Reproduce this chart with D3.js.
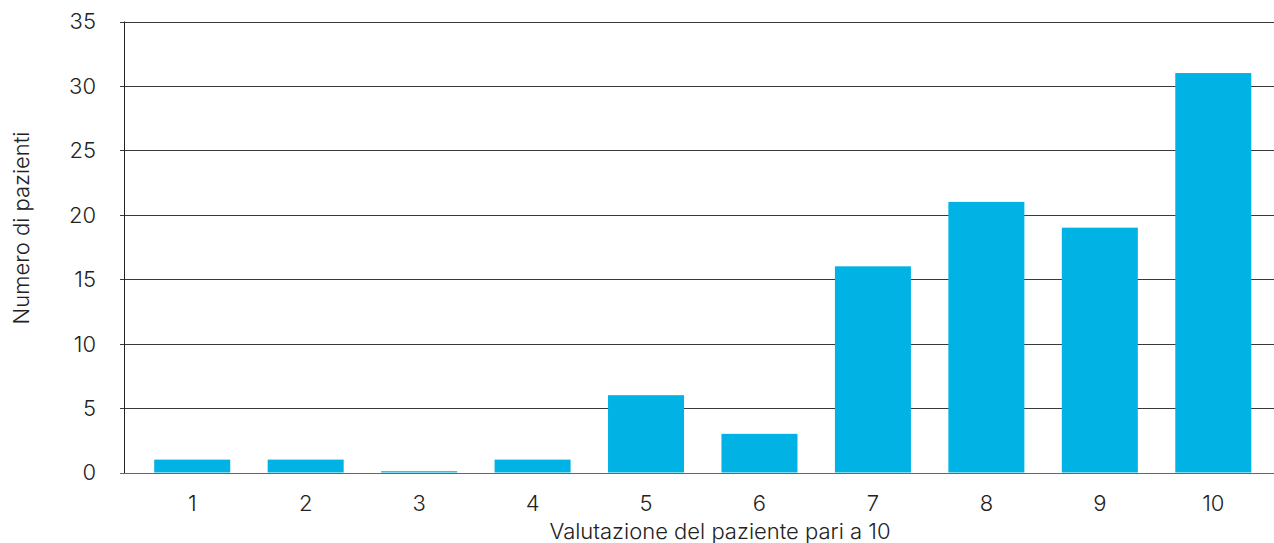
<!DOCTYPE html>
<html lang="en">
<head>
    <meta charset="UTF-8">
    <title>Numero di pazienti</title>
    <script src="https://d3js.org/d3.v7.min.js"></script>
    <style>
        body { margin: 0; background: #fff; }
        text { font-family: Inter, "Liberation Sans", Arial, sans-serif; font-weight: 300; fill: #222; }
    </style>
</head>
<body>
    <div id="chart"></div>

    <script>
        // valori
        var ratings = ["1", "2", "3", "4", "5", "6", "7", "8", "9", "10"];
        var patients = [1, 1, 0.1, 1, 6, 3, 16, 21, 19, 31];
        var yTicks = [0, 5, 10, 15, 20, 25, 30, 35];

        var width = 1274;
        var height = 543;
        var plotLeft = 124, plotRight = 1274, plotTop = 21.5, plotBottom = 472.5;

        var svg = d3.select("#chart")
            .append("svg")
            .attr("width", width)
            .attr("height", height);

        var x = d3.scaleBand()
            .domain(ratings)
            .range([135.5, 1270])
            .paddingInner(0.33)
            .paddingOuter(0.165);

        var y = d3.scaleLinear()
            .domain([0, 35])
            .range([plotBottom, plotTop]);

        // griglia
        svg.append("g")
            .selectAll("line")
            .data(yTicks)
            .enter().append("line")
            .attr("x1", plotLeft - 4)
            .attr("x2", plotRight)
            .attr("y1", function(d) { return Math.round(y(d)) + 0.5; })
            .attr("y2", function(d) { return Math.round(y(d)) + 0.5; })
            .attr("stroke", function(d) { return d === 0 ? "#666" : "#3a3a3a"; })
            .attr("stroke-width", 1);

        // barre
        svg.append("g")
            .selectAll("rect")
            .data(patients)
            .enter().append("rect")
            .attr("x", function(d, i) { return x(ratings[i]); })
            .attr("width", x.bandwidth())
            .attr("y", function(d) { return y(d); })
            .attr("height", function(d) { return y(0) - y(d); })
            .attr("fill", "#00b3e4");

        // asse y
        svg.append("line")
            .attr("x1", plotLeft + 0.5).attr("x2", plotLeft + 0.5)
            .attr("y1", plotTop).attr("y2", plotBottom + 0.5)
            .attr("stroke", "#222");

        svg.append("g")
            .selectAll("text")
            .data(yTicks)
            .enter().append("text")
            .attr("x", 96)
            .attr("y", function(d) { return y(d); })
            .attr("dy", "0.36em")
            .attr("text-anchor", "end")
            .style("font-size", "22px")
            .text(function(d) { return d; });

        svg.append("g")
            .selectAll("text")
            .data(ratings)
            .enter().append("text")
            .attr("x", function(d) { return x(d) + x.bandwidth() / 2; })
            .attr("y", 511)
            .attr("text-anchor", "middle")
            .style("font-size", "22px")
            .text(function(d) { return d; });

        // titoli
        svg.append("text")
            .attr("x", 720)
            .attr("y", 539)
            .attr("text-anchor", "middle")
            .style("font-size", "22px")
            .text("Valutazione del paziente pari a 10");

        svg.append("text")
            .attr("transform", "translate(29,228) rotate(-90)")
            .attr("text-anchor", "middle")
            .style("font-size", "22px")
            .text("Numero di pazienti");
    </script>
</body>
</html>
